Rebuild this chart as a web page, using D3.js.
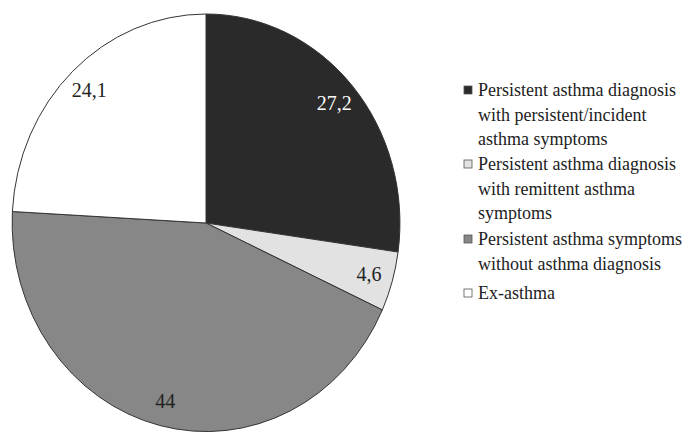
<!DOCTYPE html>
<html>
<head>
<meta charset="utf-8">
<script src="https://cdn.jsdelivr.net/npm/d3@7"></script>
<style>
  body { margin: 0; background: #fff; }
</style>
</head>
<body>
<svg width="695" height="433"></svg>
<script>
// data
var categories = [
  "Persistent asthma diagnosis with persistent/incident asthma symptoms",
  "Persistent asthma diagnosis with remittent asthma symptoms",
  "Persistent asthma symptoms without asthma diagnosis",
  "Ex-asthma"
]
var values = [27.2, 4.6, 44, 24.1]
var valueLabels = ["27,2", "4,6", "44", "24,1"]
var legendLines = [
  ["Persistent asthma diagnosis", "with persistent/incident", "asthma symptoms"],
  ["Persistent asthma diagnosis", "with remittent asthma", "symptoms"],
  ["Persistent asthma symptoms", "without asthma diagnosis"],
  ["Ex-asthma"]
]
var colors = ["#2a2a2a", "#e2e2e2", "#878787", "#ffffff"]
var labelColors = ["#ffffff", "#222", "#222", "#222"]

var font = "'Liberation Serif', 'DejaVu Serif', serif"

var svg = d3.select("svg")
var cx = 206, cy = 223, rx = 194, ry = 209

var data = values.map(function (v, i) { return {name: categories[i], value: v, i: i} })

var pie = d3.pie().sort(null).value(function (d) { return d.value })
var arcs = pie(data)

var arc = d3.arc().innerRadius(0).outerRadius(1)
var labelArc = d3.arc().innerRadius(0.875).outerRadius(0.875)

var g = svg.append("g")
  .attr("transform", "translate(" + cx + "," + cy + ") scale(" + rx + "," + ry + ")")

g.selectAll("path")
  .data(arcs)
  .enter().append("path")
  .attr("d", arc)
  .attr("fill", function (d) { return colors[d.data.i] })
  .attr("stroke", "#333")
  .attr("stroke-width", 1)
  .attr("vector-effect", "non-scaling-stroke")

svg.selectAll("text.val")
  .data(arcs)
  .enter().append("text")
  .attr("class", "val")
  .attr("x", function (d) { return cx + labelArc.centroid(d)[0] * rx })
  .attr("y", function (d) { return cy + labelArc.centroid(d)[1] * ry })
  .attr("dy", "0.35em")
  .attr("text-anchor", "middle")
  .attr("font-family", font)
  .attr("font-size", 20)
  .attr("fill", function (d) { return labelColors[d.data.i] })
  .text(function (d) { return valueLabels[d.data.i] })

// legend
var legendTops = [90, 164, 239, 293]
var lineH = 24.5
var legend = svg.append("g")

legendLines.forEach(function (lines, i) {
  legend.append("rect")
    .attr("x", 464)
    .attr("y", legendTops[i] - 4)
    .attr("width", 8)
    .attr("height", 8)
    .attr("fill", colors[i])
    .attr("stroke", "#555")
    .attr("stroke-width", 0.8)

  lines.forEach(function (line, j) {
    legend.append("text")
      .attr("x", 478)
      .attr("y", legendTops[i] + j * lineH)
      .attr("dy", "0.35em")
      .attr("font-family", font)
      .attr("font-size", 18)
      .attr("fill", "#222")
      .text(line)
  })
})
</script>
</body>
</html>
